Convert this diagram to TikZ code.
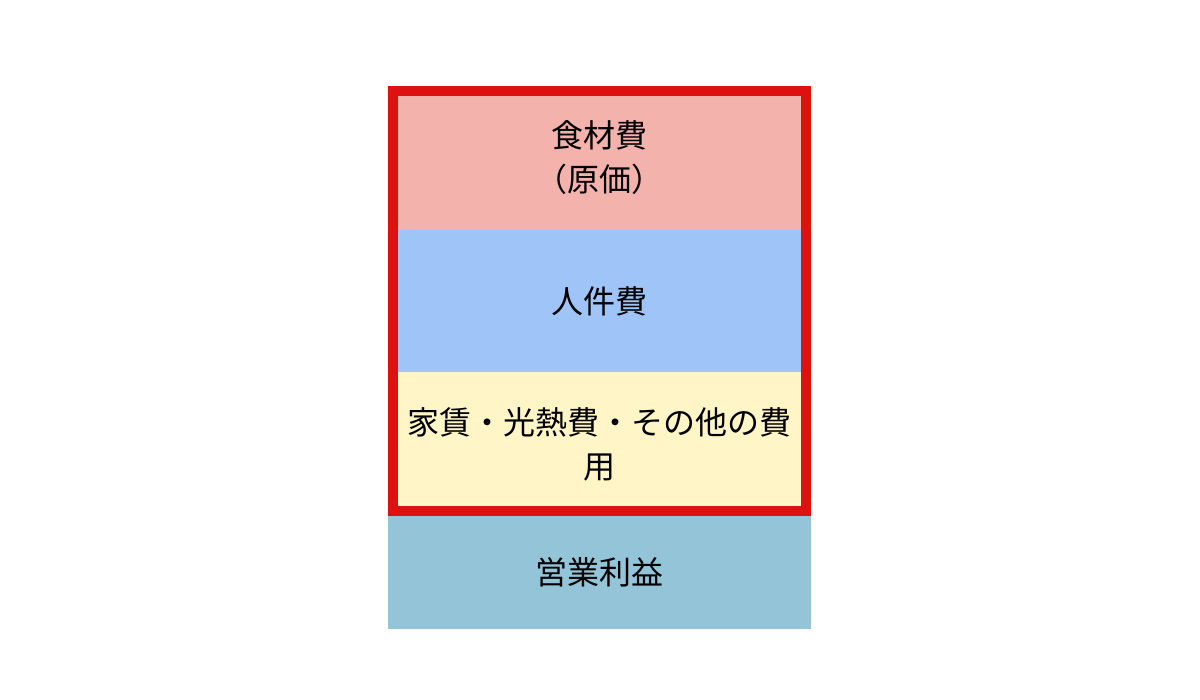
\documentclass[tikz,border=0pt]{standalone}
\usepackage{fontspec}
\setmainfont{Noto Sans CJK JP}
\usetikzlibrary{positioning}

\begin{document}
\begin{tikzpicture}[x=1pt, y=-1pt,
  costbox/.style={rectangle, inner sep=0pt, outer sep=0pt, minimum width=423pt,
    align=center, font=\fontsize{32}{44}\selectfont}]

% Define colors
\definecolor{foodpink}{HTML}{F4B2AC}
\definecolor{laborblue}{HTML}{9FC5F8}
\definecolor{rentyellow}{HTML}{FFF5C7}
\definecolor{profitteal}{HTML}{93C4D8}
\definecolor{framered}{HTML}{DE1111}

\useasboundingbox (0, 0) rectangle (1200, 700);

% Draw the cost blocks
\node[costbox, fill=foodpink, minimum height=144pt, anchor=north west] (food) at (388, 86) {食材費\\（原価）};
\node[costbox, fill=laborblue, minimum height=142pt, below=0pt of food] (labor) {人件費};
\node[costbox, fill=rentyellow, minimum height=144pt, below=0pt of labor] (rent) {家賃・光熱費・その他の費\\用};
\node[costbox, fill=profitteal, minimum height=113pt, below=0pt of rent] (profit) {営業利益};

% Draw the red frame round the costs
\draw[framered, line width=10pt] ([xshift=5pt, yshift=-5pt]food.north west) rectangle ([xshift=-5pt, yshift=5pt]rent.south east);

\end{tikzpicture}
\end{document}
